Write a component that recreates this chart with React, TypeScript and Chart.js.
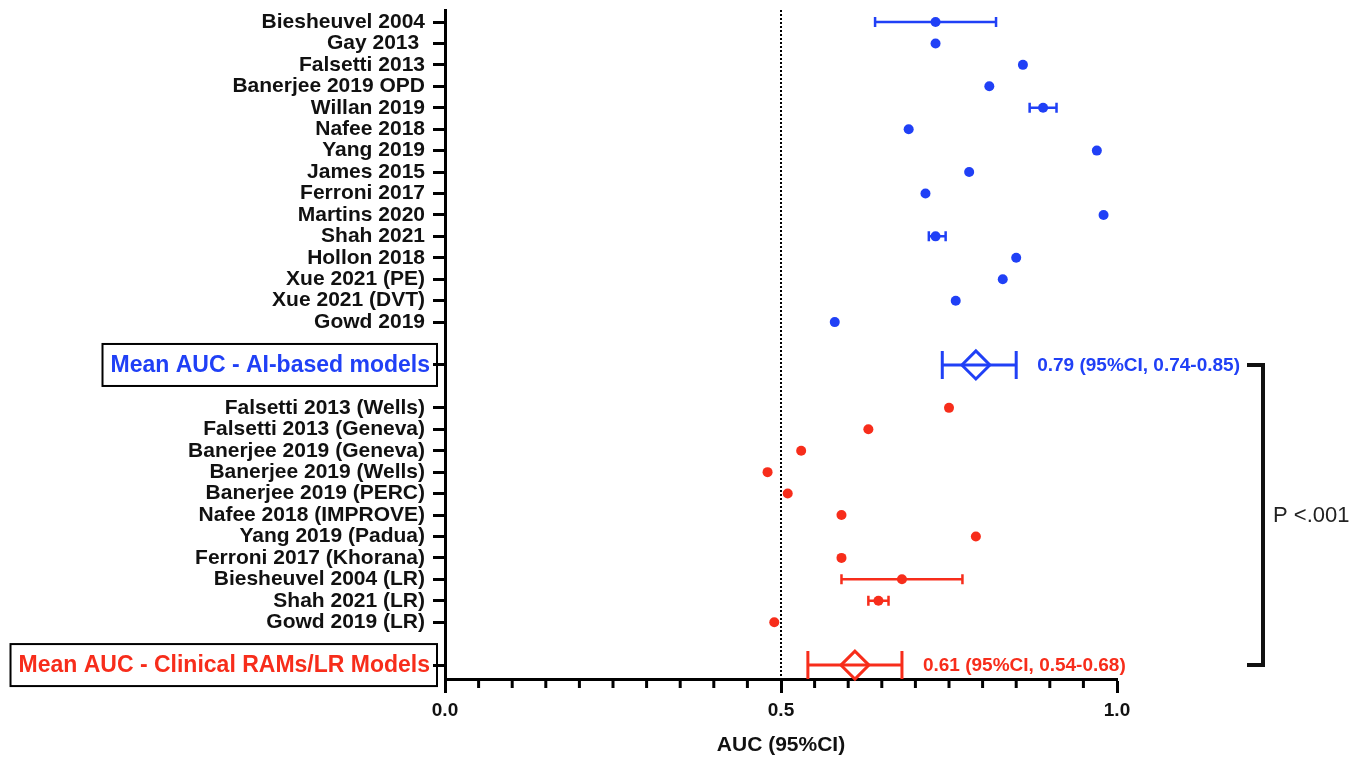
import { useEffect, useRef } from 'react';
import { Chart, registerables } from 'chart.js';

Chart.register(...registerables);

const FONT = '"Liberation Sans", Arial, Helvetica, sans-serif';
const BLUE = '#2040f6';
const RED = '#f72d1b';
const INK = '#111111';

// ---- Data ----
const aiStudies = [
  'Biesheuvel 2004',
  'Gay 2013 ',
  'Falsetti 2013',
  'Banerjee 2019 OPD',
  'Willan 2019',
  'Nafee 2018',
  'Yang 2019',
  'James 2015',
  'Ferroni 2017',
  'Martins 2020',
  'Shah 2021',
  'Hollon 2018',
  'Xue 2021 (PE)',
  'Xue 2021 (DVT)',
  'Gowd 2019',
];
const aiAuc = [0.73, 0.73, 0.86, 0.81, 0.89, 0.69, 0.97, 0.78, 0.715, 0.98, 0.73, 0.85, 0.83, 0.76, 0.58];
const aiLo: (number | null)[] = [0.64, null, null, null, 0.87, null, null, null, null, null, 0.72, null, null, null, null];
const aiHi: (number | null)[] = [0.82, null, null, null, 0.91, null, null, null, null, null, 0.745, null, null, null, null];

const clinicalStudies = [
  'Falsetti 2013 (Wells)',
  'Falsetti 2013 (Geneva)',
  'Banerjee 2019 (Geneva)',
  'Banerjee 2019 (Wells)',
  'Banerjee 2019 (PERC)',
  'Nafee 2018 (IMPROVE)',
  'Yang 2019 (Padua)',
  'Ferroni 2017 (Khorana)',
  'Biesheuvel 2004 (LR)',
  'Shah 2021 (LR)',
  'Gowd 2019 (LR)',
];
const clinicalAuc = [0.75, 0.63, 0.53, 0.48, 0.51, 0.59, 0.79, 0.59, 0.68, 0.645, 0.49];
const clinicalLo: (number | null)[] = [null, null, null, null, null, null, null, null, 0.59, 0.63, null];
const clinicalHi: (number | null)[] = [null, null, null, null, null, null, null, null, 0.77, 0.66, null];

const meanLabels = ['Mean AUC - AI-based models', 'Mean AUC - Clinical RAMs/LR Models'];
const meanAuc = [0.79, 0.61];
const meanLo = [0.74, 0.54];
const meanHi = [0.85, 0.68];
const meanText = ['0.79 (95%CI, 0.74-0.85)', '0.61 (95%CI, 0.54-0.68)'];

const xMajorTicks = [0, 0.5, 1];
const xTickLabels = ['0.0', '0.5', '1.0'];
const xTitle = 'AUC (95%CI)';
const pValueText = 'P <.001';

// ---- Row layout (category order, top to bottom) ----
const aiRow = (i: number) => i;
const meanAiRow = aiStudies.length + 1;
const clinRow = (i: number) => aiStudies.length + 3 + i;
const meanClinRow = aiStudies.length + 3 + clinicalStudies.length + 1;
const rowLabels: string[] = [
  ...aiStudies,
  '',
  '',
  '',
  ...clinicalStudies,
  '',
  '',
];
const gapRows = [aiStudies.length, aiStudies.length + 2, aiStudies.length + 3 + clinicalStudies.length];
const meanRows = [meanAiRow, meanClinRow];
const meanColors = [BLUE, RED];

const isMajor = (v: number) => xMajorTicks.some((m) => Math.abs(m - v) < 1e-6);

const forestPlugin = {
  id: 'forest',
  beforeDatasetsDraw(chart: any) {
    const { ctx, chartArea, scales } = chart;
    const x = scales.x;
    const y = scales.y;
    ctx.save();
    // dotted reference line at 0.5
    const x5 = x.getPixelForValue(0.5);
    ctx.strokeStyle = '#000';
    ctx.lineWidth = 2;
    ctx.setLineDash([2, 2]);
    ctx.beginPath();
    ctx.moveTo(x5, chartArea.top);
    ctx.lineTo(x5, chartArea.bottom);
    ctx.stroke();
    ctx.setLineDash([]);

    const bar = (lo: number, hi: number, row: number, color: string, cap: number, lw: number) => {
      const py = y.getPixelForValue(row);
      const x1 = x.getPixelForValue(lo);
      const x2 = x.getPixelForValue(hi);
      ctx.strokeStyle = color;
      ctx.lineWidth = lw;
      ctx.beginPath();
      ctx.moveTo(x1, py);
      ctx.lineTo(x2, py);
      ctx.moveTo(x1, py - cap);
      ctx.lineTo(x1, py + cap);
      ctx.moveTo(x2, py - cap);
      ctx.lineTo(x2, py + cap);
      ctx.stroke();
    };
    aiLo.forEach((lo, i) => {
      const hi = aiHi[i];
      if (lo != null && hi != null) bar(lo, hi, aiRow(i), BLUE, 5, 2.5);
    });
    clinicalLo.forEach((lo, i) => {
      const hi = clinicalHi[i];
      if (lo != null && hi != null) bar(lo, hi, clinRow(i), RED, 5, 2.5);
    });
    meanLo.forEach((lo, i) => bar(lo, meanHi[i], meanRows[i], meanColors[i], 14, 3));
    ctx.restore();
  },
  afterDraw(chart: any) {
    const { ctx, chartArea, scales } = chart;
    const x = scales.x;
    const y = scales.y;
    ctx.save();
    // minor x ticks
    ctx.strokeStyle = '#000';
    ctx.lineWidth = 3;
    for (const t of x.ticks) {
      if (isMajor(t.value)) continue;
      const px = x.getPixelForValue(t.value);
      ctx.beginPath();
      ctx.moveTo(px, chartArea.bottom);
      ctx.lineTo(px, chartArea.bottom + 9);
      ctx.stroke();
    }

    // boxed mean labels
    const labelRight = chartArea.left - 15;
    ctx.font = `bold 23px ${FONT}`;
    ctx.textBaseline = 'middle';
    meanLabels.forEach((label, i) => {
      const py = y.getPixelForValue(meanRows[i]);
      const w = ctx.measureText(label).width;
      const left = labelRight - w - 8;
      ctx.strokeStyle = '#000';
      ctx.lineWidth = 2;
      ctx.strokeRect(left, py - 21, labelRight + 7 - left, 42);
      ctx.fillStyle = meanColors[i];
      ctx.textAlign = 'right';
      ctx.fillText(label, labelRight, py + 1);
    });

    // mean values text
    ctx.font = `bold 19px ${FONT}`;
    ctx.textAlign = 'left';
    meanText.forEach((txt, i) => {
      const py = y.getPixelForValue(meanRows[i]);
      ctx.fillStyle = meanColors[i];
      ctx.fillText(txt, x.getPixelForValue(meanHi[i]) + 21, py + 1);
    });

    // bracket
    const yTop = y.getPixelForValue(meanAiRow);
    const yBot = y.getPixelForValue(meanClinRow);
    const bx = chartArea.right + 146;
    ctx.strokeStyle = '#111';
    ctx.lineWidth = 4;
    ctx.beginPath();
    ctx.moveTo(bx - 16, yTop);
    ctx.lineTo(bx, yTop);
    ctx.lineTo(bx, yBot);
    ctx.lineTo(bx - 16, yBot);
    ctx.stroke();
    ctx.fillStyle = '#222';
    ctx.font = `22px ${FONT}`;
    ctx.textAlign = 'left';
    ctx.fillText(pValueText, bx + 10, (yTop + yBot) / 2 + 1);
    ctx.restore();
  },
};

export default function App() {
  const ref = useRef<HTMLCanvasElement>(null);
  useEffect(() => {
    const canvas = ref.current;
    if (!canvas) return;
    const chart = new Chart(canvas, {
      type: 'scatter',
      data: {
        datasets: [
          {
            label: 'AI-based models',
            data: aiAuc.map((v, i) => ({ x: v, y: aiRow(i) })),
            backgroundColor: BLUE,
            borderWidth: 0,
            pointRadius: 5,
          },
          {
            label: 'Clinical RAMs/LR models',
            data: clinicalAuc.map((v, i) => ({ x: v, y: clinRow(i) })),
            backgroundColor: RED,
            borderWidth: 0,
            pointRadius: 5,
          },
          {
            label: 'Mean AUC',
            data: meanAuc.map((v, i) => ({ x: v, y: meanRows[i] })),
            pointStyle: 'rectRot',
            pointRadius: 14,
            backgroundColor: 'rgba(0,0,0,0)',
            borderColor: meanColors,
            pointBorderColor: meanColors,
            borderWidth: 3,
            clip: false,
          },
        ],
      },
      options: {
        animation: false,
        responsive: true,
        maintainAspectRatio: false,
        layout: { autoPadding: false, padding: { top: 10, right: 251, bottom: 0, left: 0 } },
        plugins: { legend: { display: false }, tooltip: { enabled: false } },
        scales: {
          x: {
            type: 'linear',
            min: 0,
            max: 1,
            afterFit: (scale: any) => {
              scale.height = 85;
              scale.paddingLeft = 0;
              scale.paddingRight = 0;
            },
            ticks: {
              stepSize: 0.05,
              autoSkip: false,
              maxRotation: 0,
              padding: 6,
              color: INK,
              font: { family: FONT, size: 19, weight: 'bold' },
              callback: (v: any) => {
                const idx = xMajorTicks.findIndex((m) => Math.abs(m - Number(v)) < 1e-6);
                return idx >= 0 ? xTickLabels[idx] : '';
              },
            },
            grid: {
              display: true,
              drawOnChartArea: false,
              drawTicks: true,
              tickLength: 14,
              tickWidth: 3,
              tickColor: (c: any) => (c.tick && isMajor(c.tick.value) ? '#000' : 'rgba(0,0,0,0)'),
            },
            border: { display: true, color: '#000', width: 3 },
            title: {
              display: true,
              text: xTitle,
              color: INK,
              font: { family: FONT, size: 21, weight: 'bold' },
              padding: { top: 0, bottom: 6 },
            },
          },
          y: {
            type: 'linear',
            reverse: true,
            min: -0.56,
            max: 30.65,
            afterFit: (scale: any) => {
              scale.width = 445;
              scale.paddingTop = 0;
              scale.paddingBottom = 0;
            },
            afterBuildTicks: (scale: any) => {
              scale.ticks = rowLabels.map((_, i) => ({ value: i }));
            },
            ticks: {
              autoSkip: false,
              padding: 8,
              color: INK,
              font: { family: FONT, size: 21, weight: 'bold' },
              callback: (_v: any, i: number) => rowLabels[i] ?? '',
            },
            grid: {
              display: true,
              drawOnChartArea: false,
              drawTicks: true,
              tickLength: 12,
              tickWidth: 3,
              tickColor: (c: any) => (gapRows.includes(c.index) ? 'rgba(0,0,0,0)' : '#000'),
            },
            border: { display: true, color: '#000', width: 3 },
          },
        },
      },
      plugins: [forestPlugin],
    } as any);
    return () => chart.destroy();
  }, []);
  return (
    <div style={{ position: 'fixed', left: 0, top: 0, width: 1368, height: 764, background: '#fff' }}>
      <canvas ref={ref} />
    </div>
  );
}
